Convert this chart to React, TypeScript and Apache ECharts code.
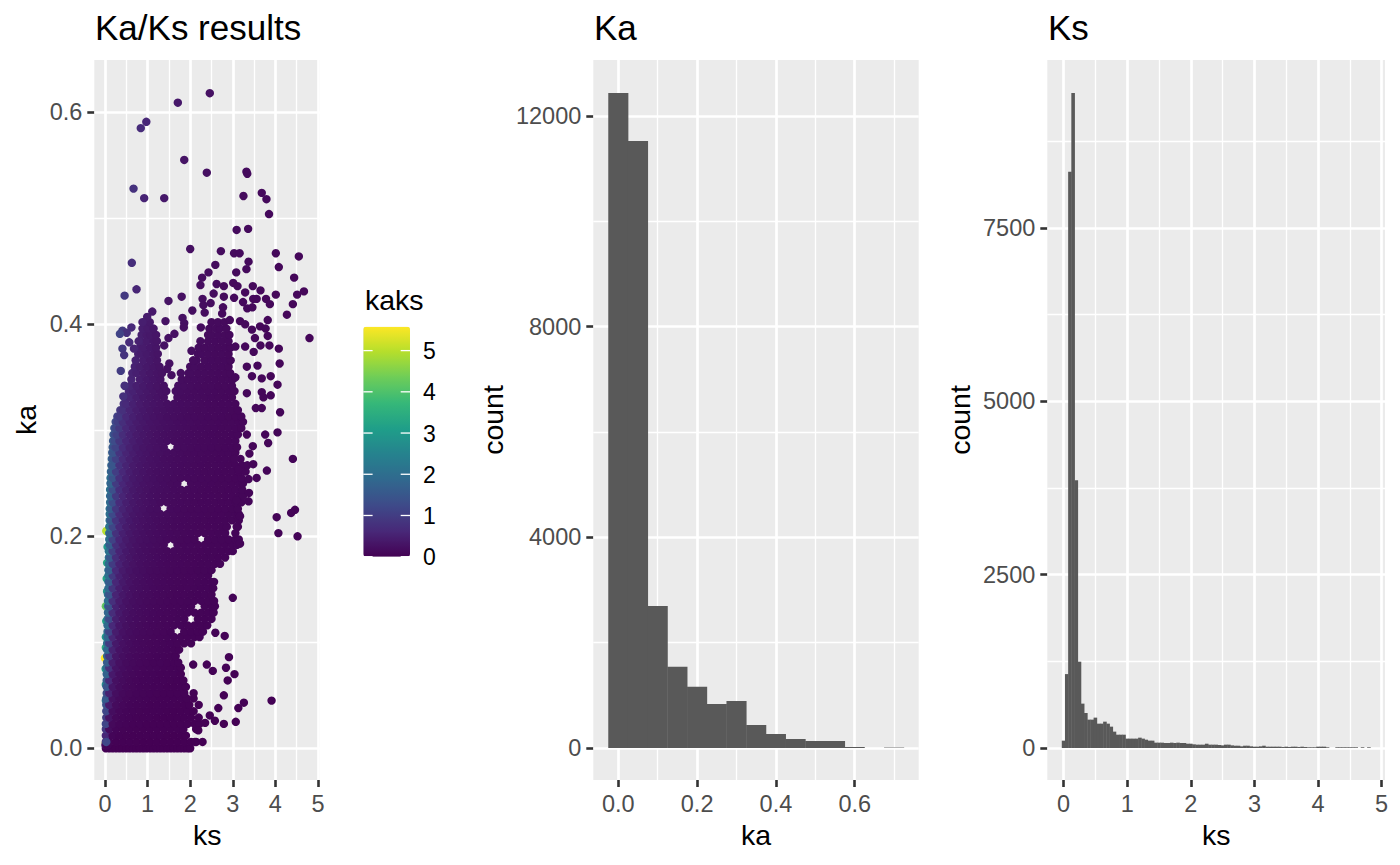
import React, { useEffect, useRef } from "react";
import * as echarts from "echarts";

const FONT = "'Liberation Sans', Arial, sans-serif";

// ---- scatter: hand-read [ks, ka] dots around the outline of the cloud
const scatterOutliers: number[][] = [
  [2.46,.618],[1.71,.609],[.97,.591],[.84,.585],[1.86,.555],[2.39,.543],[3.32,.544],[3.34,.542],[.67,.528],[.92,.519],[1.39,.519],
  [3.25,.521],[3.68,.524],[3.79,.518],[3.85,.504],[3.09,.489],[3.36,.49],[2.0,.471],[2.72,.469],[3.03,.467],[3.16,.467],[4.01,.467],
  [4.55,.464],[3.37,.459],[.63,.458],[2.59,.456],[3.32,.452],[4.08,.454],[2.43,.449],[3.08,.449],[2.28,.444],[4.44,.444],[2.24,.437],
  [2.62,.438],[2.79,.436],[3.01,.439],[3.11,.436],[.74,.433],[3.47,.436],[3.29,.43],[3.65,.432],[4.01,.428],[4.67,.431],[4.51,.428],
  [.46,.427],[1.49,.422],[1.8,.426],[2.55,.429],[2.29,.424],[2.79,.426],[3.03,.425],[3.24,.421],[3.48,.424],[3.56,.424],[3.78,.424],
  [3.87,.419],[4.41,.419],[2.31,.418],[2.48,.42],[2.34,.411],[2.05,.413],[2.77,.416],[2.75,.41],[3.34,.415],[3.46,.416],[4.27,.409],
  [3.82,.404],[1.11,.412],[.99,.407],[.88,.402],[1.42,.403],[1.82,.406],[1.86,.401],[1.85,.397],[3.17,.403],[3.29,.4],[2.93,.404],
  [3.64,.398],[3.77,.396],[3.45,.395],[.62,.397],[.41,.394],[.51,.392],[.35,.391],[4.8,.387],[2.25,.397],[3.52,.387],[3.82,.389],
  [.57,.383],[.79,.384],[.68,.377],[.41,.377],[.45,.371],[3.65,.38],[3.86,.38],[4.08,.377],[1.39,.38],[1.49,.387],[1.63,.391],
  [2.03,.375],[3.06,.379],[3.29,.379],[3.49,.374],[2.07,.366],[4.1,.363],[1.51,.363],[1.46,.358],[.37,.356],[3.58,.361],[3.33,.36],
  [1.78,.354],[1.56,.352],[3.45,.351],[3.68,.349],[3.89,.351],[3.06,.35],[.46,.342],[4.05,.343],[3.68,.336],[3.89,.333],[3.72,.331],
  [.43,.332],[3.54,.321],[3.68,.321],[4.11,.317],[3.33,.335],[4.05,.298],[3.76,.296],[3.83,.288],[4.41,.273],[3.33,.296],[3.47,.285],
  [3.39,.278],[3.04,.273],[3.48,.268],[3.8,.262],[3.13,.263],[3.56,.255],[3.37,.254],[3.38,.241],[3.08,.234],[3.37,.233],[4.03,.218],
  [4.46,.225],[4.37,.222],[4.07,.203],[4.52,.2],[3.17,.219],[3.09,.209],[3.17,.193],[3.0,.142],[2.81,.106],[2.59,.109],[3.91,.045],
  [2.91,.086],[2.39,.079],[2.84,.076],[2.53,.073],[3.04,.07],[2.88,.064],[2.07,.079],[2.79,.05],[3.26,.043],[3.13,.038],[2.66,.038],
  [2.46,.031],[2.58,.026],[2.79,.023],[3.07,.025],[2.35,.024],[2.29,.006],[2.11,.006],[2.19,.017],
];

// ---- scatter: dots with a high ratio along the left edge [ks, ka, kaks]
const scatterEdge: number[][] = [
  [.03,.205,5.0],[.06,.19,3.0],[.05,.175,3.3],[.04,.16,3.2],[.05,.148,2.9],[.02,.134,4.2],[.03,.12,3.2],[.02,.105,3.0],
  [.02,.095,3.4],[.0,.085,5.58],[.015,.075,3.0],[.02,.06,2.6],[.02,.045,2.0],[.02,.005,5.0],
];

// ---- scatter: samples of the dense mass, one row per ka level: [ka, ks values]
const coreLow: [number, number[]][] = [
  [.000,[.02,.10,.18,.26,.34,.42,.50,.58,.66,.74,.82,.90,.98,1.06,1.14,1.22,1.30,1.38,1.46,1.54,1.62,1.70,1.78,1.86,1.94,2.0]],
  [.003,[.01,.03,.06]],
  [.006,[.02,.10,.26,.42,.58,.74,.90,1.06,1.22,1.38,1.54,1.70,1.86,2.02,2.14]],
  [.012,[.02,.18,.34,.50,.66,.82,.98,1.14,1.30,1.46,1.62,1.78,1.90]],
  [.018,[.02,.10,.26,.42,.58,.74,.90,1.06,1.22,1.38,1.54,1.70,1.84,2.14]],
  [.023,[.02,.18,.34,.50,.66,.82,.98,1.14,1.30,1.46,1.62,1.78,1.94,2.10,2.22]],
  [.029,[.03,.10,.26,.42,.58,.74,.90,1.06,1.22,1.38,1.54,1.70,1.86,2.02,2.2]],
  [.035,[.03,.18,.34,.50,.66,.82,.98,1.14,1.30,1.46,1.62,1.78,1.94,2.08]],
  [.041,[.03,.10,.26,.42,.58,.74,.90,1.06,1.22,1.38,1.54,1.70,1.86,1.98,2.2]],
  [.047,[.03,.18,.34,.50,.66,.82,.98,1.14,1.30,1.46,1.62,1.78,1.92,2.08]],
  [.052,[.04,.10,.26,.42,.58,.74,.90,1.06,1.22,1.38,1.54,1.70,1.86,2.08]],
  [.058,[.04,.18,.34,.50,.66,.82,.98,1.14,1.30,1.46,1.62,1.78,1.90]],
  [.064,[.04,.10,.26,.42,.58,.74,.90,1.06,1.22,1.38,1.54,1.70,1.84]],
  [.070,[.04,.18,.34,.50,.66,.82,.98,1.14,1.30,1.46,1.62,1.78]],
  [.076,[.04,.10,.26,.42,.58,.74,.90,1.06,1.22,1.38,1.54,1.70,1.78]],
  [.081,[.05,.18,.34,.50,.66,.82,.98,1.14,1.30,1.46,1.62,1.72]],
  [.087,[.05,.10,.26,.42,.58,.74,.90,1.06,1.22,1.38,1.54,1.66]],
  [.093,[.05,.18,.34,.50,.66,.82,.98,1.14,1.30,1.46,1.62,1.74]],
  [.099,[.05,.10,.26,.42,.58,.74,.90,1.06,1.22,1.38,1.54,1.70,1.86,2.02]],
  [.105,[.06,.18,.34,.50,.66,.82,.98,1.14,1.30,1.46,1.62,1.78,1.94,2.10,2.22]],
];
const coreMid: [number, number[]][] = [
  [.110,[.06,.10,.26,.42,.58,.74,.90,1.06,1.22,1.38,1.54,1.86,2.02,2.18,2.3]],
  [.116,[.06,.18,.34,.50,.66,.82,.98,1.14,1.30,1.46,1.62,1.78,1.94,2.10,2.26,2.4]],
  [.122,[.06,.10,.26,.42,.58,.74,.90,1.06,1.22,1.38,1.54,1.70,1.86,2.18,2.34,2.5]],
  [.128,[.07,.18,.34,.50,.66,.82,.98,1.14,1.30,1.46,1.62,1.78,1.94,2.10,2.26,2.42,2.55]],
  [.134,[.07,.10,.26,.42,.58,.74,.90,1.06,1.22,1.38,1.54,1.70,1.86,2.02,2.34,2.5,2.58]],
  [.139,[.07,.18,.34,.50,.66,.82,.98,1.14,1.30,1.46,1.62,1.78,1.94,2.10,2.26,2.42,2.56]],
  [.145,[.07,.10,.26,.42,.58,.74,.90,1.06,1.22,1.38,1.54,1.70,1.86,2.02,2.18,2.34,2.5]],
  [.151,[.08,.18,.34,.50,.66,.82,.98,1.14,1.30,1.46,1.62,1.78,1.94,2.10,2.26,2.42,2.54]],
  [.157,[.08,.10,.26,.42,.58,.74,.90,1.06,1.22,1.38,1.54,1.70,1.86,2.02,2.18,2.34,2.5,2.56]],
  [.163,[.08,.18,.34,.50,.66,.82,.98,1.14,1.30,1.46,1.62,1.78,1.94,2.10,2.26,2.42]],
  [.168,[.08,.10,.26,.42,.58,.74,.90,1.06,1.22,1.38,1.54,1.70,1.86,2.02,2.18,2.34,2.5]],
  [.174,[.09,.18,.34,.50,.66,.82,.98,1.14,1.30,1.46,1.62,1.78,1.94,2.10,2.26,2.42,2.58,2.7]],
  [.180,[.09,.12,.26,.42,.58,.74,.90,1.06,1.22,1.38,1.54,1.70,1.86,2.02,2.18,2.34,2.5,2.66,2.82]],
  [.186,[.09,.18,.34,.50,.66,.82,.98,1.14,1.30,1.46,1.62,1.78,1.94,2.10,2.26,2.42,2.58,2.74,2.9,3.0]],
  [.192,[.10,.12,.26,.42,.58,.74,.90,1.06,1.22,1.38,1.70,1.86,2.02,2.18,2.34,2.5,2.66,2.82,2.98,3.1]],
  [.197,[.10,.18,.34,.50,.66,.82,.98,1.14,1.30,1.46,1.62,1.78,1.94,2.10,2.42,2.58,2.74,2.9,3.06,3.14]],
  [.203,[.10,.12,.26,.42,.58,.74,.90,1.06,1.22,1.38,1.54,1.70,1.86,2.02,2.18,2.34,2.5,2.66,2.82,3.06]],
];
const coreHigh: [number, number[]][] = [
  [.209,[.10,.18,.34,.50,.66,.82,.98,1.14,1.30,1.46,1.62,1.78,1.94,2.10,2.26,2.42,2.58,2.74,2.86,3.12]],
  [.215,[.11,.14,.26,.42,.58,.74,.90,1.06,1.22,1.38,1.54,1.70,1.86,2.02,2.18,2.34,2.5,2.66,2.82,2.98,3.14]],
  [.221,[.11,.18,.34,.50,.66,.82,.98,1.14,1.30,1.46,1.62,1.78,1.94,2.10,2.26,2.42,2.58,2.74,2.9,3.06,3.14]],
  [.226,[.11,.14,.26,.42,.58,.74,.90,1.06,1.22,1.54,1.70,1.86,2.02,2.18,2.34,2.5,2.66,2.82,2.98,3.12]],
  [.232,[.12,.18,.34,.50,.66,.82,.98,1.14,1.30,1.46,1.62,1.78,1.94,2.10,2.26,2.42,2.58,2.74,2.9,3.06,3.2]],
  [.238,[.12,.14,.26,.42,.58,.74,.90,1.06,1.22,1.38,1.54,1.70,1.86,2.02,2.18,2.34,2.5,2.66,2.82,2.98,3.14,3.24]],
  [.244,[.12,.18,.34,.50,.66,.82,.98,1.14,1.30,1.46,1.62,1.78,1.94,2.10,2.26,2.42,2.58,2.74,2.9,3.06,3.22]],
  [.250,[.13,.14,.26,.42,.58,.74,.90,1.06,1.22,1.38,1.54,1.70,2.02,2.18,2.34,2.5,2.66,2.82,2.98,3.14,3.24]],
  [.255,[.13,.18,.34,.50,.66,.82,.98,1.14,1.30,1.46,1.62,1.78,1.94,2.10,2.26,2.42,2.58,2.74,2.9,3.06,3.2]],
  [.261,[.14,.16,.26,.42,.58,.74,.90,1.06,1.22,1.38,1.54,1.70,1.86,2.02,2.18,2.34,2.5,2.66,2.82,2.98,3.14,3.3]],
  [.267,[.15,.18,.34,.50,.66,.82,.98,1.14,1.30,1.46,1.62,1.78,1.94,2.10,2.26,2.42,2.58,2.74,2.9,3.06,3.22,3.34]],
  [.273,[.16,.19,.26,.42,.58,.74,.90,1.06,1.22,1.38,1.54,1.70,1.86,2.02,2.18,2.34,2.5,2.66,2.82,2.98,3.18]],
  [.279,[.17,.20,.34,.50,.66,.82,.98,1.14,1.30,1.46,1.62,1.78,1.94,2.10,2.26,2.42,2.58,2.74,2.9,3.06]],
  [.284,[.18,.22,.26,.42,.58,.74,.90,1.06,1.22,1.38,1.70,1.86,2.02,2.18,2.34,2.5,2.66,2.82,2.98,3.1]],
  [.290,[.19,.23,.34,.50,.66,.82,.98,1.14,1.30,1.46,1.62,1.78,1.94,2.10,2.26,2.42,2.58,2.74,2.9,3.06]],
  [.296,[.20,.24,.28,.42,.58,.74,.90,1.06,1.22,1.38,1.54,1.70,1.86,2.02,2.18,2.34,2.5,2.66,2.82,2.98,3.12]],
  [.302,[.22,.26,.34,.50,.66,.82,.98,1.14,1.30,1.46,1.62,1.78,1.94,2.10,2.26,2.42,2.58,2.74,2.9,3.06,3.2]],
  [.308,[.25,.30,.42,.58,.74,.90,1.06,1.22,1.38,1.54,1.70,1.86,2.02,2.18,2.34,2.5,2.66,2.82,2.98,3.14,3.24]],
  [.313,[.29,.34,.50,.66,.82,.98,1.14,1.30,1.46,1.62,1.78,1.94,2.10,2.26,2.42,2.58,2.74,2.9,3.06,3.2]],
  [.319,[.36,.42,.58,.74,.90,1.06,1.22,1.38,1.54,1.70,1.86,2.02,2.18,2.34,2.5,2.66,2.82,2.98,3.12]],
  [.325,[.44,.50,.66,.82,.98,1.14,1.30,1.46,1.62,1.78,1.94,2.10,2.26,2.42,2.58,2.74,2.9,3.06]],
  [.331,[.50,.58,.74,.90,1.06,1.22,1.38,1.70,1.86,2.02,2.18,2.34,2.50,2.66,2.82,2.98]],
  [.337,[.56,.66,.82,.98,1.14,1.30,1.44,1.66,1.78,1.94,2.10,2.26,2.42,2.58,2.74,2.90,3.04]],
  [.342,[.60,.74,.90,1.06,1.22,1.38,1.72,1.86,2.02,2.18,2.34,2.50,2.66,2.82,2.98]],
  [.348,[.62,.82,.98,1.14,1.30,1.80,1.94,2.10,2.26,2.42,2.58,2.74,2.90,3.0]],
  [.354,[.64,.74,.90,1.06,1.22,1.34,1.96,2.02,2.18,2.34,2.50,2.66,2.82,2.94]],
  [.360,[.70,.82,.98,1.14,1.28,2.00,2.10,2.26,2.42,2.58,2.74,2.90]],
  [.366,[.72,.90,1.06,1.22,2.15,2.34,2.50,2.66,2.82,2.95]],
  [.372,[.78,.86,.98,1.14,1.24,2.18,2.26,2.42,2.58,2.74,2.90]],
  [.378,[.82,.90,1.06,1.2,2.2,2.34,2.50,2.66,2.82,2.95]],
  [.384,[.84,.98,1.14,1.22,2.24,2.42,2.58,2.74,2.90]],
  [.390,[.86,.98,1.06,1.2,2.42,2.50,2.66,2.82,2.92]],
  [.396,[.88,1.0,1.14,2.45,2.6,2.7,2.85]],
  [.402,[.92,1.05,2.5,2.65,2.8]],
];

// ---- Ka histogram
const kaBins = [0,.05,.1,.15,.2,.25,.3,.35,.4,.45,.5,.55,.6,.65,.7];
const kaCounts = [12435,11525,2696,1544,1164,835,892,437,266,171,133,133,19,0,8];

// ---- Ks histogram
const ksBins = [0,.05,.1,.15,.2,.25,.3,.35,.4,.45,.5,.55,.6,.65,.7,.75,.8,.85,.9,.95,
  1,1.05,1.1,1.15,1.2,1.25,1.3,1.35,1.4,1.45,1.5,1.55,1.6,1.65,1.7,1.75,1.8,1.85,1.9,1.95,
  2,2.05,2.1,2.15,2.2,2.25,2.3,2.35,2.4,2.45,2.5,2.55,2.6,2.65,2.7,2.75,2.8,2.85,2.9,2.95,
  3,3.05,3.1,3.15,3.2,3.25,3.3,3.35,3.4,3.45,3.5,3.55,3.6,3.65,3.7,3.75,3.8,3.85,3.9,3.95,
  4,4.05,4.1,4.15,4.2,4.25,4.3,4.35,4.4,4.45,4.5,4.55,4.6,4.65,4.7,4.75,4.8];
const ksCounts = [106,1066,8310,9447,3860,1245,640,505,409,409,438,351,351,380,351,308,236,192,192,192,
  135,135,135,135,149,135,120,106,106,77,77,77,72,72,77,72,77,72,72,62,
  62,53,48,48,48,62,48,48,48,43,38,48,48,38,33,33,24,33,33,24,
  19,19,24,33,19,19,19,19,19,14,19,14,19,19,14,19,14,10,10,10,
  19,19,19,10,0,0,10,10,10,10,10,10,10,0,10,0,10];

// ---- axes
const axisKsTicks = [0,1,2,3,4,5];
const axisKsMinor = [.5,1.5,2.5,3.5,4.5];
const axisKaTicks = [0,.2,.4,.6];
const axisKaMinor = [.1,.3,.5];
const axisKaHistMinor = [.1,.3,.5,.7];
const countKaTicks = [0,4000,8000,12000];
const countKaMinor = [2000,6000,10000];
const countKsTicks = [0,2500,5000,7500];
const countKsMinor = [1250,3750,6250,8750];

// ---- colour legend
const viridis = ["#440154","#482878","#3E4A89","#31688E","#26828E","#1F9E89","#35B779","#6DCD59","#B4DE2C","#FDE725"];
const legendTicks = [0,1,2,3,4,5];
const kaksMax = 5.58;

const ratio = (ks: number, ka: number) => Math.min(kaksMax, ks > 0 ? ka / ks : 0);

const scatterData: number[][] = [
  ...scatterEdge,
  ...[...coreLow, ...coreMid, ...coreHigh].flatMap(([ka, list]) => list.map((ks) => [ks, ka, ratio(ks, ka)])),
  ...scatterOutliers.map(([ks, ka]) => [ks, ka, ratio(ks, ka)]),
  [.03,.006,1.2],
];

const GRIDS = [
  { left: 94.3, top: 60, width: 225.7, height: 720 },
  { left: 593.3, top: 60, width: 325.4, height: 720 },
  { left: 1047.3, top: 60, width: 337.7, height: 720 },
];
const BAR = "#595959";

function xAxis(gridIndex: number, name: string, min: number, max: number, ticks: number[], fmt: (v: number) => string) {
  return {
    type: "value", gridIndex, name, min, max, nameLocation: "middle", nameGap: 40,
    nameTextStyle: { fontFamily: FONT, fontSize: 28.5, color: "#000" },
    axisLine: { show: false, onZero: false },
    axisTick: { show: true, length: 7, lineStyle: { color: "#333", width: 2.6 }, customValues: ticks },
    axisLabel: { show: true, margin: 12, color: "#4D4D4D", fontFamily: FONT, fontSize: 23.5, customValues: ticks, formatter: fmt },
    splitLine: { show: false }, minorSplitLine: { show: false },
  };
}
function yAxis(gridIndex: number, name: string, min: number, max: number, ticks: number[], fmt: (v: number) => string, nameGap: number) {
  return {
    type: "value", gridIndex, name, min, max, nameLocation: "middle", nameGap, nameRotate: 90,
    nameTextStyle: { fontFamily: FONT, fontSize: 28.5, color: "#000" },
    axisLine: { show: false, onZero: false },
    axisTick: { show: true, length: 7, lineStyle: { color: "#333", width: 2.6 }, customValues: ticks },
    axisLabel: { show: true, margin: 12, color: "#4D4D4D", fontFamily: FONT, fontSize: 23.5, customValues: ticks, formatter: fmt },
    splitLine: { show: false }, minorSplitLine: { show: false },
  };
}
function gridLines(i: number, xMajor: number[], xMinor: number[], yMajor: number[], yMinor: number[]) {
  const mk = (width: number, data: any[]) => ({
    type: "line", xAxisIndex: i, yAxisIndex: i, data: [], z: 1, silent: true,
    markLine: { z: 1, silent: true, symbol: "none", animation: false, label: { show: false },
      lineStyle: { color: "#FFFFFF", width, type: "solid", opacity: 1 }, emphasis: { disabled: true }, data },
  });
  return [
    mk(1.3, [...xMinor.map((v) => ({ xAxis: v })), ...yMinor.map((v) => ({ yAxis: v }))]),
    mk(2.7, [...xMajor.map((v) => ({ xAxis: v })), ...yMajor.map((v) => ({ yAxis: v }))]),
  ];
}

export default function App() {
  const ref = useRef<HTMLDivElement>(null);
  useEffect(() => {
    document.body.style.margin = "0";
    const chart = echarts.init(ref.current!, undefined, { renderer: "svg" });
    const legendTop = 326.7, legendBottom = 556.7, legendLeft = 363.3, legendW = 46.7;
    const yOf = (v: number) => legendBottom - (v / kaksMax) * (legendBottom - legendTop);
    const gSeries = [
      ...gridLines(0, axisKsTicks, axisKsMinor, axisKaTicks, axisKaMinor),
      ...gridLines(1, axisKaTicks, axisKaHistMinor, countKaTicks, countKaMinor),
      ...gridLines(2, axisKsTicks, axisKsMinor, countKsTicks, countKsMinor),
    ];
    const scatterIndex = gSeries.length;
    chart.setOption({
      animation: false,
      backgroundColor: "#FFFFFF",
      textStyle: { fontFamily: FONT },
      title: [
        { text: "Ka/Ks results", left: 95, top: 10, padding: 0, textStyle: { fontFamily: FONT, fontSize: 35, fontWeight: "normal", color: "#000" } },
        { text: "Ka", left: 594, top: 10, padding: 0, textStyle: { fontFamily: FONT, fontSize: 35, fontWeight: "normal", color: "#000" } },
        { text: "Ks", left: 1048, top: 10, padding: 0, textStyle: { fontFamily: FONT, fontSize: 35, fontWeight: "normal", color: "#000" } },
      ],
      grid: GRIDS.map((g) => ({ ...g, show: true, backgroundColor: "#EBEBEB", borderWidth: 0, containLabel: false })),
      xAxis: [
        xAxis(0, "ks", -0.251, 5.047, axisKsTicks, (v) => String(v)),
        xAxis(1, "ka", -0.0635, 0.7624, axisKaTicks, (v) => v.toFixed(1)),
        xAxis(2, "ks", -0.256, 5.053, axisKsTicks, (v) => String(v)),
      ],
      yAxis: [
        yAxis(0, "ka", -0.0299, 0.6493, axisKaTicks, (v) => v.toFixed(1), 54),
        yAxis(1, "count", -607.6, 13062, countKaTicks, (v) => String(v), 86),
        yAxis(2, "count", -461.5, 9923, countKsTicks, (v) => String(v), 73),
      ],
      visualMap: {
        type: "continuous", seriesIndex: scatterIndex, dimension: 2, min: 0, max: kaksMax,
        show: true, calculable: false, realtime: false, left: legendLeft, top: legendTop, padding: 0,
        itemWidth: legendW, itemHeight: legendBottom - legendTop, text: undefined, showLabel: false,
        inRange: { color: viridis },
      },
      series: [
        ...gSeries,
        { type: "scatter", name: "kaks", xAxisIndex: 0, yAxisIndex: 0, z: 3, symbolSize: 8.4, large: false,
          itemStyle: { opacity: 1 }, data: scatterData, silent: true },
        { type: "bar", name: "Ka", xAxisIndex: 1, yAxisIndex: 1, z: 3, barWidth: 20.1, silent: true,
          itemStyle: { color: BAR }, data: kaBins.map((b, i) => [b, kaCounts[i]]) },
        { type: "bar", name: "Ks", xAxisIndex: 2, yAxisIndex: 2, z: 3, barWidth: 3.6, silent: true,
          itemStyle: { color: BAR }, data: ksBins.map((b, i) => [b, ksCounts[i]]) },
      ],
      graphic: [
        { type: "text", left: 365, top: 285, style: { text: "kaks", fontFamily: FONT, fontSize: 28.5, fill: "#000" } },
        ...legendTicks.flatMap((v) => [
          { type: "line", z: 20, shape: { x1: legendLeft, y1: yOf(v), x2: legendLeft + 9.3, y2: yOf(v) }, style: { stroke: "#FFF", lineWidth: 1.3 } },
          { type: "line", z: 20, shape: { x1: legendLeft + legendW - 9.3, y1: yOf(v), x2: legendLeft + legendW, y2: yOf(v) }, style: { stroke: "#FFF", lineWidth: 1.3 } },
          { type: "text", z: 20, x: 423, y: yOf(v) - 11, style: { text: String(v), fontFamily: FONT, fontSize: 23, fill: "#000" } },
        ]),
      ],
    });
    return () => chart.dispose();
  }, []);
  return <div ref={ref} style={{ position: "absolute", left: 0, top: 0, width: 1400, height: 865 }} />;
}
